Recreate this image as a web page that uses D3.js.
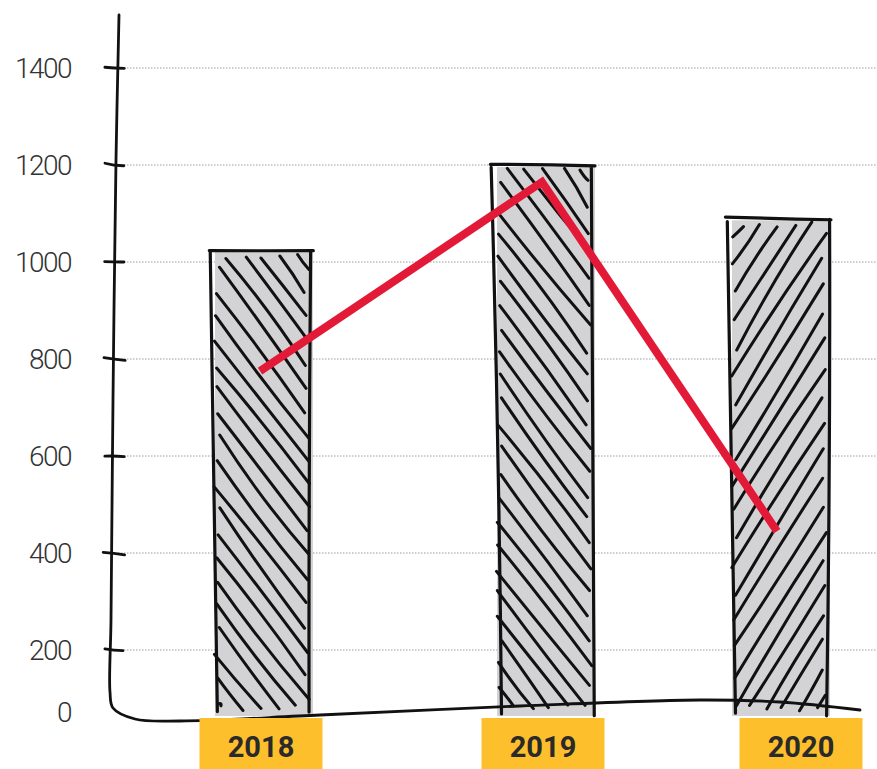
<!DOCTYPE html>
<html><head><meta charset="utf-8">
<script src="https://cdn.jsdelivr.net/npm/d3@7"></script>
<style>html,body{margin:0;padding:0;background:#fff;}svg{display:block;}</style>
</head><body>
<div id="chart"></div>
<script>
// ---- data ----
const categories = ["2018", "2019", "2020"];
const barValues = [1025, 1200, 1090];
const lineValues = [775, 1165, 445];
const yTickValues = [0, 200, 400, 600, 800, 1000, 1200, 1400];
const hachureDirection = [1, 1, -1]; // 1 = "\" , -1 = "/"

// ---- layout ----
const W = 877, H = 769;
const svg = d3.select("#chart").append("svg").attr("width", W).attr("height", H);
svg.append("rect").attr("width", W).attr("height", H).attr("fill", "#fff");

const y = d3.scaleLinear().domain([0, 200, 1400]).range([712, 650, 68]);
const x = d3.scaleOrdinal().domain(categories).range([261, 543, 778]);
const xLabel = d3.scaleOrdinal().domain(categories).range([261, 543, 801]);
const barW = 100;

// deterministic jitter for the hand-drawn look
function rnd(i) { const v = Math.sin(i * 12.9898 + 78.233) * 43758.5453; return v - Math.floor(v); }
let seed = 1;
function j(a) { seed += 1; return (rnd(seed) - 0.5) * 2 * a; }
function roughPath(x1, y1, x2, y2, amp, bow) {
  const dx = x2 - x1, dy = y2 - y1, len = Math.hypot(dx, dy) || 1;
  const nx = -dy / len, ny = dx / len;
  const b = j(bow === undefined ? Math.min(3, len * 0.01) : bow);
  const mx = (x1 + x2) / 2 + nx * b, my = (y1 + y2) / 2 + ny * b;
  return `M${x1 + j(amp)},${y1 + j(amp)} Q${mx},${my} ${x2 + j(amp)},${y2 + j(amp)}`;
}

// ---- gridlines ----
svg.append("g").selectAll("line").data(yTickValues.filter(d => d > 0)).join("line")
  .attr("x1", 118).attr("x2", W)
  .attr("y1", d => y(d)).attr("y2", d => y(d))
  .attr("stroke", "#9c9c9c").attr("stroke-width", 1).attr("stroke-dasharray", "1.5,1.5");

// ---- bars ----
const gBars = svg.append("g");
categories.forEach((c, i) => {
  const cx = x(c), x0 = cx - barW / 2, x1 = cx + barW / 2;
  const top = y(barValues[i]), bot = y(0);
  const g = gBars.append("g");
  g.append("rect").attr("x", x0 + 4).attr("y", top + 2).attr("width", barW - 2).attr("height", bot - top + 2)
    .attr("fill", "#d3d3d5");
  // hachure
  const dir = hachureDirection[i];
  const k = (dir > 0 ? 1.32 : 1.6) * dir; // slope
  const spacing = 14.5;
  const cosA = 1 / Math.sqrt(1 + k * k);
  const step = spacing / cosA;
  const ix0 = x0 + 6, ix1 = x1 - 4, iy0 = top + 6, iy1 = bot - 4;
  const cs = [iy0 - k * ix0, iy0 - k * ix1, iy1 - k * ix0, iy1 - k * ix1];
  const cmin = d3.min(cs), cmax = d3.max(cs);
  let hp = "";
  for (let cc = cmin + step * 0.5; cc < cmax; cc += step) {
    let xa = (iy0 - cc) / k, xb = (iy1 - cc) / k;
    let lo = Math.max(ix0, Math.min(xa, xb)), hi = Math.min(ix1, Math.max(xa, xb));
    if (hi - lo < 4) continue;
    const ya = k * lo + cc, yb = k * hi + cc;
    hp += roughPath(lo, ya, hi, yb, 3, 3) + " ";
  }
  g.append("path").attr("d", hp).attr("fill", "none").attr("stroke", "#111")
    .attr("stroke-width", 3).attr("stroke-linecap", "round");
  // outline
  const op = [
    roughPath(x0 - 2, top, x1 + 2, top, 1.5, 1),
    roughPath(x0, top + 2, x0 + 8, bot, 2, 3),
    roughPath(x1, top + 2, x1, bot + 2, 2, 3)
  ].join(" ");
  g.append("path").attr("d", op).attr("fill", "none").attr("stroke", "#111")
    .attr("stroke-width", 3.2).attr("stroke-linecap", "round");
});

// ---- axis ----
const axisPts = [[119, 15], [116, 160], [113, 400], [111, 620], [110, y(0) - 20], [113, y(0) - 4],
  [135, y(0) + 7], [180, y(0) + 9], [320, y(0) + 3], [520, y(0) - 6], [700, y(0) - 12], [780, y(0) - 10], [860, y(0) - 2]];
svg.append("path").attr("d", d3.line().curve(d3.curveCatmullRom)(axisPts))
  .attr("fill", "none").attr("stroke", "#111").attr("stroke-width", 2.8).attr("stroke-linecap", "round");
svg.append("g").selectAll("path").data(yTickValues.filter(d => d > 0)).join("path")
  .attr("d", d => roughPath(104, y(d) - 1, 124, y(d) + 1, 1.2, 1))
  .attr("fill", "none").attr("stroke", "#111").attr("stroke-width", 2.8).attr("stroke-linecap", "round");

// y labels
svg.append("g").selectAll("text").data(yTickValues).join("text")
  .attr("x", 71).attr("y", d => y(d)).attr("dy", "0.36em")
  .attr("text-anchor", "end")
  .attr("font-family", "Roboto, sans-serif").attr("font-weight", 300).attr("font-size", 28)
  .attr("letter-spacing", -1.5)
  .attr("fill", "#333").text(d => d);

// ---- line series ----
svg.append("path")
  .attr("d", d3.line().x((d, i) => x(categories[i]) - 1).y(d => y(d))(lineValues))
  .attr("fill", "none").attr("stroke", "#e31a37").attr("stroke-width", 8)
  .attr("stroke-linejoin", "miter");

// ---- x labels ----
const gl = svg.append("g");
gl.selectAll("rect").data(categories).join("rect")
  .attr("x", d => xLabel(d) - 61.5).attr("y", 718).attr("width", 123).attr("height", 56)
  .attr("fill", "#fdbf2c");
gl.selectAll("text").data(categories).join("text")
  .attr("x", d => xLabel(d)).attr("y", 747).attr("dy", "0.36em").attr("text-anchor", "middle")
  .attr("font-family", "Roboto, sans-serif").attr("font-weight", 700).attr("font-size", 29)
  .attr("fill", "#2a2a2a").text(d => d);
</script>
</body></html>
